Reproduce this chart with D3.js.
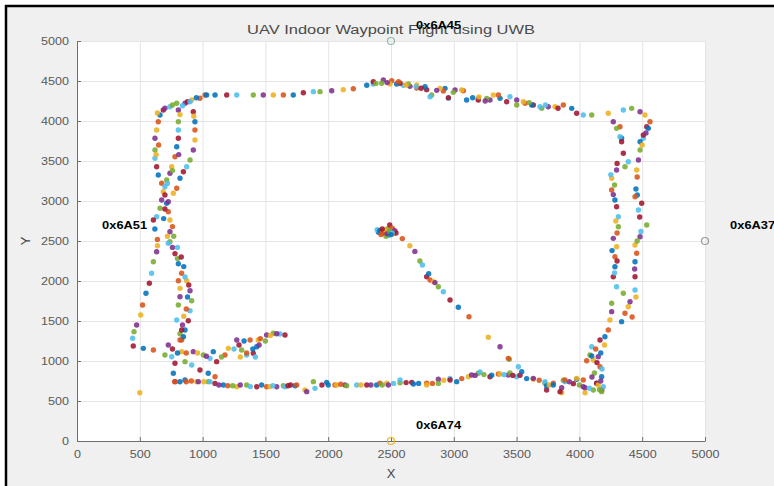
<!DOCTYPE html>
<html>
<head>
<meta charset="utf-8">
<script src="https://cdn.jsdelivr.net/npm/d3@7"></script>
<style>
  html, body { margin: 0; padding: 0; background: #ffffff; }
  svg { display: block; font-family: "Liberation Sans", Arial, Helvetica, sans-serif; }
</style>
</head>
<body>
<svg id="chart" width="774" height="486"></svg>
<script>
// UWB anchors (mm) and their labels
const anchorIds = ["0x6A51", "0x6A45", "0x6A37", "0x6A74"];
const anchorX = [0, 2500, 5000, 2500];
const anchorY = [2500, 5000, 2500, 0];
const anchorColors = ["none", "#8fb9a8", "#9a9a9a", "#EDB120"];

// Axis ticks
const xTicks = [0, 500, 1000, 1500, 2000, 2500, 3000, 3500, 4000, 4500, 5000];
const yTicks = [0, 500, 1000, 1500, 2000, 2500, 3000, 3500, 4000, 4500, 5000];

// Recorded UWB position fixes of the UAV (mm)
const flightX = [
  // hover near the centre
  2400, 2420, 2440, 2450, 2470, 2480, 2490, 2500, 2510, 2520, 2530, 2460, 2390, 2540,
  2410, 2430, 2450, 2470, 2490, 2510, 2430, 2500,
  // leg towards the lower right
  2590, 2650, 2690, 2730, 2750, 2784, 2800, 2811, 2840, 2850, 2877, 2917, 2970, 3036, 3121, 3275, 3368, 3442, 3514,
  // lower edge
  780, 860, 870, 953, 966, 1045, 1059, 1099, 1165, 1200, 1272, 1300, 1351, 1380, 1431, 1470, 1510, 1537, 1590,
  1643, 1656, 1700, 1736, 1749, 1815, 1829, 1882, 1895, 1950, 1988, 2054, 2067, 2134, 2147, 2227, 2307, 2386,
  2412, 2466, 2479, 2572, 2572, 2665, 2678, 2784, 2784, 2877, 2877, 2970, 2970, 3023, 3063, 3116, 3142, 3195,
  3209, 3288, 3302, 3355, 3368, 3434, 3447, 3501, 3527, 3541, 3434, 3633, 3633, 3726, 3726, 3739, 3739, 3792,
  3859, 3859, 3872, 3885, 3952, 3978, 4031, 4045, 4045, 4111, 4137, 4178,
  820, 910, 1010, 1130, 1240, 1560, 1680, 2000, 2100, 2260, 2340, 2430, 2520, 2620, 2720, 2830, 2920, 3170,
  3240, 3400, 3470, 3580, 3680, 3760, 3920, 4000, 4080,
  // right side, inner pass
  3846, 3792, 3885, 3978, 4031, 4177, 4190, 4137, 4177, 4164, 4111, 4150, 4084, 4098, 4164, 4203, 4230, 4243,
  4257, 4257, 4296, 4270, 4283, 4283, 4296, 4270, 4310, 4310, 4296, 4283, 4257, 4257, 4296, 4363, 4389, 4350,
  4336, 4323, 4230, 4270, 4296, 4323, 4336, 4098, 4058,
  4150, 4170, 4120, 4180, 4140, 4170, 4130, 4200, 4100, 4160,
  4280, 4300, 4260, 4300, 4290, 4270, 4280, 4250, 4300,
  // right side, outer pass
  4336, 4363, 4389, 4403, 4350, 4443, 4443, 4443, 4456, 4443, 4483, 4536, 4470, 4496, 4461, 4443, 4456, 4470,
  4483, 4509, 4536, 4549, 4562, 4522, 4483, 4416, 4350, 4509, 4483,
  4420, 4450, 4440, 4460, 4490, 4480, 4450, 4460, 4500, 4530,
  // upper edge
  4098, 4031, 3978, 3939, 3872, 3806, 3752, 3700, 3686, 3633, 3620, 3567, 3554, 3501, 3501, 3447, 3421, 3368,
  3355, 3315, 3288, 3262, 3195, 3195, 3102, 3076, 3063, 3010, 2996, 2957, 2957, 2930, 2917, 2890, 2864, 2824,
  2811, 2784, 2771, 2705, 2705, 2651, 2638, 2598, 2572, 2545, 2506, 2492, 2439, 2426, 2359, 2359, 2307, 2200,
  2120, 2028, 1935, 1882, 1802, 1722, 1643, 1563, 1483, 1404, 1272, 1192, 1099, 1019,
  3200, 3250, 3600, 3730, 3830, 3150, 2560, 2620, 2470, 2380, 2700, 2740,
  // upper-left corner and outer left pass
  1032, 979, 913, 860, 794, 740, 687, 661, 647, 634, 621, 621, 621, 634, 647, 674, 687, 674, 661, 634, 608,
  620, 640, 640, 634, 608, 594, 576, 549, 522, 507, 475, 454, 443, 448, 528, 608,
  640, 700, 760, 840, 880, 950, 650, 630,
  // left side, middle pass
  807, 807, 807, 807, 794, 780, 754, 740, 714, 700, 700, 714, 727, 740, 740, 740, 727, 780, 807, 833, 873, 900,
  913, 900, 886, 860, 833,
  820, 810, 760, 720, 700, 690, 760, 720, 760, 800, 860, 890, 880, 870, 850, 840, 820,
  // left side, inner pass
  900, 926, 939, 939, 939, 926, 900, 873, 847, 820, 794, 767, 727, 770, 800, 830, 850, 807, 820, 820, 807, 794,
  833, 847, 820, 930,
  // lower-left loop
  727, 700, 754, 780, 767, 780,
  833, 926, 1006, 1059, 1112, 1085, 1178, 1205, 1272, 1311, 1351, 1404, 1431, 1378, 1443, 1510, 1563, 1616, 1656,
  1330, 1350, 1300, 1450, 1500, 1420,
  760, 800, 870, 960, 1030, 1150, 1250, 1290, 1400, 1460, 1540, 1590,
  860, 913, 979, 1045, 1099,
  500
];
const flightY = [
  2610, 2580, 2630, 2600, 2650, 2570, 2700, 2620, 2660, 2590, 2630, 2560, 2640, 2600,
  2630, 2600, 2640, 2590, 2620, 2600, 2650, 2580,
  2530, 2440, 2370, 2250, 2200, 2054, 2090, 2013, 1990, 1980, 1929, 1866, 1763, 1671, 1554, 1296, 1179, 1021, 929,
  742, 762, 740, 742, 742, 742, 742, 720, 700, 690, 679, 700, 700, 680, 679, 700, 679, 680, 679,
  690, 679, 700, 690, 700, 638, 617, 742, 658, 700, 733, 700, 700, 700, 690, 700, 700, 700,
  721, 721, 700, 729, 762, 733, 712, 721, 700, 771, 720, 783, 762, 742, 780, 804, 825, 846,
  862, 804, 821, 837, 837, 825, 850, 804, 821, 867, 1033, 771, 783, 721, 741, 638, 688, 721,
  604, 667, 759, 742, 717, 771, 762, 604, 667, 638, 721, 638,
  740, 750, 740, 700, 690, 690, 690, 700, 710, 700, 700, 700, 720, 730, 720, 720, 760, 820,
  830, 830, 820, 780, 760, 700, 740, 700, 660,
  617, 700, 762, 783, 679, 617, 679, 721, 804, 929, 1013, 1054, 1075, 1179, 1263, 1304, 1388, 1513,
  1617, 1721, 1929, 2054, 2179, 2304, 2429, 2533, 2679, 2804, 2929, 3013, 3138, 3284, 3388, 3429, 3491, 3596,
  3784, 3929, 4096, 3991, 3908, 3804, 3741, 1062, 1004,
  700, 750, 850, 900, 980, 1100, 1150, 1200, 800, 640,
  2100, 2250, 2380, 2600, 2750, 3080, 3200, 3330, 3470,
  1492, 1596, 1679, 1741, 1846, 1888, 2054, 2241, 2346, 2450, 2554, 2700, 2888, 2971, 3075, 3054, 3388, 3513,
  3638, 3784, 3929, 3908, 3991, 4075, 4116, 4158, 4138, 3825, 3741,
  1550, 1800, 2150, 2500, 2620, 2800, 3150, 3300, 3700, 3850,
  4075, 4075, 4096, 4158, 4200, 4179, 4179, 4158, 4179, 4200, 4200, 4221, 4241, 4262, 4200, 4304, 4241, 4283,
  4325, 4325, 4262, 4283, 4283, 4262, 4262, 4379, 4387, 4387, 4358, 4283, 4292, 4408, 4375, 4408, 4383, 4325,
  4304, 4392, 4429, 4412, 4450, 4433, 4462, 4446, 4471, 4462, 4504, 4462, 4512, 4471, 4462, 4491, 4446, 4404,
  4392, 4379, 4367, 4367, 4354, 4325, 4325, 4325, 4325, 4325, 4325, 4325, 4325, 4325,
  4300, 4250, 4230, 4200, 4160, 4290, 4490, 4450, 4480, 4470, 4430, 4410,
  4325, 4284, 4263, 4221, 4221, 4179, 4138, 4075, 3991, 3888, 3784, 3638, 3534, 3429, 3325, 3221, 3116, 3013, 2909, 2804, 2763,
  2650, 2520, 2440, 2366, 2241, 2096, 1971, 1846, 1700, 1575, 1450, 1367, 1284, 1188, 1158, 1138,
  4100, 4160, 4200, 4190, 4240, 4290, 3700, 3580,
  4138, 3991, 3888, 3784, 3679, 3554, 3429, 3346, 3263, 3179, 3075, 2971, 2866, 2763, 2616, 2491, 2471, 2341, 2216, 2096, 2004, 1879,
  1754, 1629, 1504, 1388, 1263,
  4080, 3580, 3380, 3220, 2900, 2780, 2680, 2560, 2420, 2280, 2050, 1950, 1800, 1650, 1560, 1450, 1340,
  4241, 4116, 3991, 3888, 3763, 3638, 3513, 3429, 3366, 3284, 3159, 3096, 2991, 2560, 2420, 2300, 2180, 2004, 1908, 1804, 1700, 1513,
  1388, 1304, 1263, 4060,
  1200, 1075, 1054, 971, 846, 742,
  1117, 1117, 1075, 1033, 992, 1117, 1075, 1158, 1263, 1138, 1075, 1096, 1179, 1263, 1263, 1325, 1346, 1338, 1325,
  1250, 1100, 1050, 1200, 1250, 1050,
  1150, 1100, 1100, 1100, 1060, 1050, 1150, 1200, 1150, 1280, 1320, 1340,
  992, 950, 888, 846, 804,
  604
];

// MATLAB default colour order, cycled point by point
const colorOrder = ["#0072BD", "#D95319", "#EDB120", "#7E2F8E", "#77AC30", "#4DBEEE", "#A2142F"];

const svg = d3.select("#chart");
const W = 774, H = 486;

// figure frame
svg.append("rect").attr("x", 0).attr("y", 0).attr("width", W).attr("height", H).attr("fill", "#ffffff");
svg.append("rect").attr("x", 7).attr("y", 7).attr("width", W - 7).attr("height", H - 7).attr("fill", "#f0f0f0");
svg.append("line").attr("x1", 6).attr("x2", 6).attr("y1", 5).attr("y2", H).attr("stroke", "#000").attr("stroke-width", 2.5);
svg.append("line").attr("x1", 5).attr("x2", W).attr("y1", 6).attr("y2", 6).attr("stroke", "#000").attr("stroke-width", 2.5);

const x = d3.scaleLinear().domain([0, 5000]).range([77, 705]);
const y = d3.scaleLinear().domain([0, 5000]).range([441, 41]);

// axes background
svg.append("rect").attr("x", x(0)).attr("y", y(5000))
  .attr("width", x(5000) - x(0)).attr("height", y(0) - y(5000)).attr("fill", "#ffffff");

// grid
const grid = svg.append("g").attr("stroke", "#e4e4e4").attr("stroke-width", 1);
grid.selectAll("line.gx").data(xTicks.slice(1)).join("line")
  .attr("x1", d => x(d) + 0.5).attr("x2", d => x(d) + 0.5).attr("y1", y(5000)).attr("y2", y(0));
grid.selectAll("line.gy").data(yTicks.slice(1)).join("line")
  .attr("y1", d => y(d) + 0.5).attr("y2", d => y(d) + 0.5).attr("x1", x(0)).attr("x2", x(5000));

// tick text is drawn slightly wide, as in the exported figure
const tickFont = 10.5, stretch = 1.2;
function styleTicks(g) {
  g.select(".domain").attr("stroke", "#6e6e6e");
  g.selectAll(".tick line").attr("stroke", "#6e6e6e");
  g.selectAll(".tick text")
    .attr("fill", "#5a5a5a")
    .style("font-size", tickFont + "px")
    .attr("lengthAdjust", "spacingAndGlyphs")
    .attr("textLength", function() { return this.textContent.length * 0.556 * tickFont * stretch; });
}

svg.append("g").attr("transform", `translate(0,${y(0)})`)
  .call(d3.axisBottom(x).tickValues(xTicks).tickFormat(d3.format("d")).tickSize(-4).tickSizeOuter(0).tickPadding(10))
  .call(styleTicks);
svg.append("g").attr("transform", `translate(${x(0)},0)`)
  .call(d3.axisLeft(y).tickValues(yTicks).tickFormat(d3.format("d")).tickSize(-4).tickSizeOuter(0).tickPadding(8))
  .call(styleTicks);

// anchor markers
svg.append("g").selectAll("circle").data(anchorIds).join("circle")
  .attr("cx", (d, i) => x(anchorX[i])).attr("cy", (d, i) => y(anchorY[i]))
  .attr("r", 3.5).attr("fill", "none").attr("stroke", (d, i) => anchorColors[i]).attr("stroke-width", 1.2);

// flight points
svg.append("g").selectAll("circle").data(flightX).join("circle")
  .attr("cx", (d, i) => x(flightX[i])).attr("cy", (d, i) => y(flightY[i]))
  .attr("r", 2.7)
  .attr("fill", (d, i) => colorOrder[i % colorOrder.length])
  .attr("fill-opacity", 0.88);

// title
svg.append("text").attr("x", 391).attr("y", 30).attr("text-anchor", "middle").attr("dominant-baseline", "central")
  .attr("fill", "#4a4a4a").style("font-size", "12.5px")
  .attr("textLength", 288).attr("lengthAdjust", "spacingAndGlyphs")
  .text("UAV Indoor Waypoint Flight using UWB");

// anchor labels
svg.append("g").selectAll("text").data(anchorIds).join("text")
  .attr("x", (d, i) => x(anchorX[i] + 200)).attr("y", (d, i) => y(anchorY[i] + 200))
  .attr("dominant-baseline", "central")
  .attr("fill", "#000").style("font-size", "10.5px").style("font-weight", "bold")
  .attr("textLength", 45).attr("lengthAdjust", "spacingAndGlyphs")
  .text(d => d);

// axis labels
svg.append("text").attr("x", 391).attr("y", 473).attr("text-anchor", "middle").attr("dominant-baseline", "central")
  .attr("fill", "#444").style("font-size", "13px").text("X");
svg.append("text").attr("transform", "translate(25,241) rotate(-90)").attr("text-anchor", "middle")
  .attr("dominant-baseline", "central").attr("fill", "#444").style("font-size", "13px").text("Y");
</script>
</body>
</html>
